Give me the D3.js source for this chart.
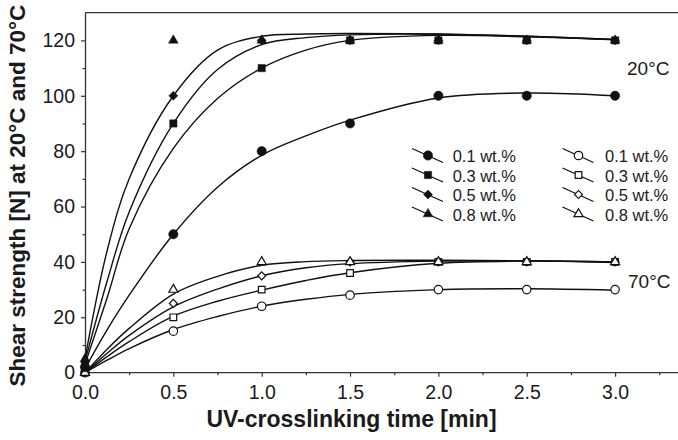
<!DOCTYPE html>
<html><head><meta charset="utf-8">
<script src="https://cdn.jsdelivr.net/npm/d3@7"></script>
<style>
body{margin:0;background:#fff}
svg{display:block}
text{font-family:"Liberation Sans",Arial,Helvetica,sans-serif;fill:#1a1a1a}
</style>
</head><body><svg id="c" width="678" height="440"></svg>
<script>
// ---------- data ----------
const times = [0, 0.5, 1.0, 1.5, 2.0, 2.5, 3.0];
const concLabels = ["0.1 wt.%", "0.3 wt.%", "0.5 wt.%", "0.8 wt.%"];
// 20 °C measured points
const s20_01 = [2, 50, 80, 90, 100, 100, 100];
const s20_03 = [3, 90, 110, 120, 120, 120, 120];
const s20_05 = [4, 100, 120, 120, 120, 120, 120];
const s20_08 = [5, 120, 120, 120, 120, 120, 120];
// 70 °C measured points
const s70_01 = [0, 15, 24, 28, 30, 30, 30];
const s70_03 = [0, 20, 30, 36, 40, 40, 40];
const s70_05 = [0, 25, 35, 40, 40, 40, 40];
const s70_08 = [0, 30, 40, 40, 40, 40, 40];
// fitted curves, values
const fitTimes = [0, 0.125, 0.25, 0.5, 0.75, 1.0, 1.25, 1.5, 2.0, 2.5, 3.0];
const fit20_a = [5, 44, 70, 100, 116.5, 121.5, 122.3, 122.5, 122.3, 121.5, 120.3];
const fit20_b = [4, 33, 58, 90, 109.5, 118.5, 121, 122, 122.2, 121.5, 120.3];
const fit20_c = [3, 27, 52, 81, 99, 110, 116.5, 120, 121.8, 121.3, 120.2];
const fit20_d = [1.5, 15.5, 28, 50, 67, 78.5, 85.5, 91.2, 99.2, 101, 100];
const fit70_tri = [0, 8.5, 16, 28.4, 34.8, 38.8, 40.1, 40.5, 40.6, 40.4, 39.8];
const fit70_dia = [0, 7, 13.5, 23.8, 30.2, 35, 37.9, 39.4, 40.3, 40.4, 40];
const fit70_sq = [0, 5.8, 11.2, 20.4, 25.8, 29.8, 33.3, 36.1, 39.5, 40.3, 40];
const fit70_cir = [0, 4.5, 8.7, 15.6, 20.3, 24, 26.5, 28.3, 30, 30.3, 29.8];
const xTicks = [0, 0.5, 1.0, 1.5, 2.0, 2.5, 3.0];
const xMinor = [0.25, 0.75, 1.25, 1.75, 2.25, 2.75, 3.25];
const yTicks = [0, 20, 40, 60, 80, 100, 120];
const yMinor = [10, 30, 50, 70, 90, 110];
const xTitle = "UV-crosslinking time [min]";
const yTitle = "Shear strength [N] at 20°C and 70°C";
const tempLabels = ["20°C", "70°C"];

// ---------- layout ----------
const W = 678, H = 440;
const L = 85, T = 12.7, B = 372.7, R = 678;
const svg = d3.select("#c");
const x = d3.scaleLinear().domain([0, 3.356]).range([L, R]);
const y = d3.scaleLinear().domain([0, 130]).range([B, T]);
const ink = "#111";

// frame top line
svg.append("line").attr("x1", L).attr("x2", R).attr("y1", T).attr("y2", T)
  .attr("stroke", "#333").attr("stroke-width", 1.3);

// axes
const xAxis = svg.append("g").attr("transform", `translate(0,${B})`)
  .call(d3.axisBottom(x).tickValues(xTicks).tickFormat(d3.format(".1f")).tickSize(4).tickPadding(8).tickSizeOuter(0));
const xAxisMinor = svg.append("g").attr("transform", `translate(0,${B})`)
  .call(d3.axisBottom(x).tickValues(xMinor).tickFormat("").tickSize(2.5).tickSizeOuter(0));
const yAxis = svg.append("g").attr("transform", `translate(${L},0)`)
  .call(d3.axisLeft(y).tickValues(yTicks).tickSize(4).tickPadding(6).tickSizeOuter(0));
const yAxisMinor = svg.append("g").attr("transform", `translate(${L},0)`)
  .call(d3.axisLeft(y).tickValues(yMinor).tickFormat("").tickSize(2.5).tickSizeOuter(0));
[xAxis, xAxisMinor, yAxis, yAxisMinor].forEach(g => {
  g.select(".domain").attr("stroke", "#333").attr("stroke-width", 1.3);
  g.selectAll(".tick line").attr("stroke", "#333").attr("stroke-width", 1.2);
  g.selectAll(".tick text").attr("font-size", 19.5).attr("font-family", '"Liberation Sans",Arial,sans-serif').attr("fill", "#1a1a1a");
});
xAxisMinor.select(".domain").remove();
yAxisMinor.select(".domain").remove();
// extend x domain line to right edge
xAxis.select(".domain").attr("d", `M${L},0H${R}`);

// axis titles
svg.append("text").attr("x", 351.5).attr("y", 426.5).attr("text-anchor", "middle")
  .attr("font-size", 23).attr("font-weight", "bold").text(xTitle);
svg.append("text").attr("transform", `translate(24.5,${(T + B) / 2 + 3}) rotate(-90)`)
  .attr("text-anchor", "middle").attr("font-size", 22.5).attr("font-weight", "bold").text(yTitle);

// fitted curves
const line = d3.line().x((d, i) => x(fitTimes[i])).y(d => y(d)).curve(d3.curveCatmullRom.alpha(0.5));
[fit20_a, fit20_b, fit20_c, fit20_d, fit70_tri, fit70_dia, fit70_sq, fit70_cir].forEach(f => {
  svg.append("path").attr("d", line(f)).attr("fill", "none").attr("stroke", ink).attr("stroke-width", 1.4);
});

// marker definitions
const shapes = [
  {type: d3.symbolCircle, filledSize: 68, openSize: 56, rot: 0},
  {type: d3.symbolSquare, filledSize: 53, openSize: 44, rot: 0},
  {type: d3.symbolSquare, filledSize: 40, openSize: 32, rot: 45},
  {type: d3.symbolTriangle, filledSize: 40, openSize: 36, rot: 0}
];
function marker(g, idx, filled, cx, cy) {
  const s = shapes[idx];
  g.append("path")
    .attr("d", d3.symbol().type(s.type).size(filled ? s.filledSize : s.openSize)())
    .attr("transform", `translate(${cx},${cy}) rotate(${s.rot})`)
    .attr("fill", filled ? ink : "#fff")
    .attr("stroke", ink).attr("stroke-width", filled ? 0.5 : 1.2);
}

const series20 = [s20_01, s20_03, s20_05, s20_08];
const series70 = [s70_01, s70_03, s70_05, s70_08];
const gm = svg.append("g");
series70.forEach((s, k) => s.forEach((v, i) => marker(gm, k, false, x(times[i]), y(v))));
series20.forEach((s, k) => s.forEach((v, i) => marker(gm, k, true, x(times[i]), y(v))));

// temperature labels
svg.append("text").attr("x", 627).attr("y", 75).attr("font-size", 19).text(tempLabels[0]);
svg.append("text").attr("x", 628).attr("y", 288).attr("font-size", 19).text(tempLabels[1]);

// legend
const lg = svg.append("g");
const rowY = [155.5, 175, 194.5, 214];
const cols = [{mx: 428, tx: 452.7, filled: true}, {mx: 578.5, tx: 605, filled: false}];
cols.forEach(c => {
  concLabels.forEach((lab, k) => {
    const cy = rowY[k];
    lg.append("line").attr("x1", c.mx - 16).attr("y1", cy - 7).attr("x2", c.mx + 15).attr("y2", cy + 7)
      .attr("stroke", ink).attr("stroke-width", 1.3);
    marker(lg, k, c.filled, c.mx, cy);
    lg.append("text").attr("x", c.tx).attr("y", cy + 6.5).attr("font-size", 16.5).text(lab);
  });
});
</script>
</body></html>
